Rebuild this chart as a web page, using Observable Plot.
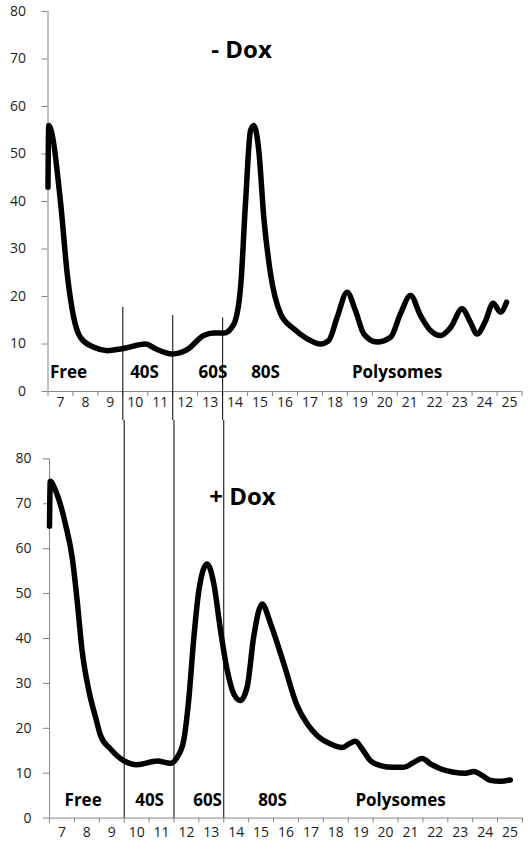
<!DOCTYPE html>
<html><head><meta charset="utf-8">
<script src="https://cdn.jsdelivr.net/npm/d3@7"></script>
<script src="https://cdn.jsdelivr.net/npm/@observablehq/plot@0.6"></script>
<style>
body{margin:0;background:#fff;width:531px;overflow:hidden;}
#c svg{display:block;}
</style>
</head><body><div id="c"></div>
<script>
// Tick labels (gradient fractions) and y ticks
const fractionLabels = [7,8,9,10,11,12,13,14,15,16,17,18,19,20,21,22,23,24,25];
const yTicks = [0,10,20,30,40,50,60,70,80];

// - Dox profile (fraction, absorbance)
const minusDoxX = [6.50,6.53,7.00,7.27,7.53,7.80,8.34,8.87,9.47,10.41,10.81,11.48,12.08,12.74,13.15,13.55,13.95,14.22,14.42,14.62,14.75,14.95,15.15,15.42,15.82,16.35,16.89,17.42,17.75,18.09,18.49,18.82,19.16,19.69,20.23,20.63,21.03,21.43,21.84,22.24,22.64,23.10,23.43,23.70,24.04,24.34,24.64,24.88];
const minusDoxY = [43,56,40,24.8,15.6,11.4,9.3,8.6,9.0,10.0,9.0,7.9,8.8,11.8,12.3,12.3,14.2,22,40,55,56,50.7,36.7,24.8,16.4,13.2,11.1,10.0,10.7,15.6,20.9,17.1,12.1,10.4,11.4,16.4,20.2,16,12.8,11.8,13.5,17.4,14.6,12.1,14.9,18.6,16.7,18.8];

// + Dox profile
const plusDoxX = [6.50,6.53,6.74,7.14,7.41,7.61,7.81,8.08,8.35,8.55,8.95,9.48,10.02,10.83,11.36,11.63,11.89,12.09,12.30,12.50,12.83,13.10,13.37,13.64,13.90,14.17,14.44,14.70,15.04,15.38,15.91,16.45,16.85,17.25,17.79,18.26,18.52,18.79,19.06,19.39,19.79,20.33,20.73,21.07,21.47,21.80,22.20,22.74,23.21,23.54,23.88,24.21,24.61,25.01];
const plusDoxY = [65,75,73,65.5,58.1,48.5,37.3,28.4,22.5,18.4,15.4,12.8,11.9,12.7,12.2,13.6,17.3,26.2,40.3,50.7,56.6,52.2,41.8,32.9,27.7,26.2,29.2,40.3,47.7,43.3,34.4,25,21,18.4,16.5,15.7,16.5,17.1,15.4,12.8,11.7,11.3,11.3,12.2,13.3,12.1,11.0,10.2,10.0,10.4,9.5,8.4,8.2,8.5];

// Region labels and boundaries
const regionNames = ["Free","40S","60S","80S","Polysomes"];
const minusDoxLabelX = [7.32,10.37,13.11,15.22,20.49];
const plusDoxLabelX = [7.85,10.52,12.85,15.46,20.6];
const boundaries = [9.5,11.5,13.5];
const boundaryTops = [17.7,16,15.5];

const halfTicks = fractionLabels.map(d => d - 0.5).concat([fractionLabels[fractionLabels.length-1] + 0.5]);
const FONT = "'Open Sans', 'DejaVu Sans', sans-serif";
const AXIS = "#868686";

function chart(o) {
  const data = o.xs.map((x, i) => ({x, y: o.ys[i]}));
  return Plot.plot({
    width: 531, height: o.height,
    marginTop: o.mt, marginBottom: o.mb, marginLeft: o.ml, marginRight: o.mr,
    style: {fontFamily: FONT, fontSize: "14px", background: "white", color: "#1e1e1e"},
    x: {domain: [6.5, 25.5]},
    y: {domain: [0, 80]},
    marks: [
      Plot.ruleY([0], {stroke: AXIS}),
      Plot.ruleX([6.5], {y1: 0, y2: 80, stroke: AXIS}),
      Plot.axisY({ticks: yTicks, tickSize: 6, tickPadding: o.ypad, stroke: AXIS, fill: "#1e1e1e", fontSize: 14, label: null}),
      Plot.axisX({ticks: halfTicks, tickSize: 5, tickFormat: () => "", stroke: AXIS, label: null}),
      Plot.axisX({ticks: fractionLabels, tickSize: 0, tickPadding: o.xpad, fill: "#1e1e1e", fontSize: 14, tickFormat: d => String(d), label: null}),
      Plot.ruleX(boundaries, {x: d => d, y1: (d, i) => o.ruleTop[i], y2: o.ruleBottom, stroke: "black", strokeWidth: 1}),
      Plot.line(data, {x: "x", y: "y", curve: "monotone-x", stroke: "black", strokeWidth: 5.5, strokeLinejoin: "round"}),
      Plot.text(regionNames, {x: (d, i) => o.labelX[i], y: o.labelY, text: d => d, fontWeight: "bold", fontSize: 17, fill: "black"}),
      Plot.text([o.title], {x: o.titleX, y: o.titleY, text: d => d, fontWeight: "bold", fontSize: 24, fill: "black"})
    ]
  });
}

const c = document.getElementById("c");
c.appendChild(chart({
  xs: minusDoxX, ys: minusDoxY, height: 420, mt: 11, mb: 29, ml: 47.5, mr: 9.5,
  ypad: 16, xpad: 6, ruleTop: boundaryTops, ruleBottom: -8,
  labelX: minusDoxLabelX, labelY: 4.0, title: "- Dox", titleX: 14.26, titleY: 71.8
}));
c.appendChild(chart({
  xs: plusDoxX, ys: plusDoxY, height: 426, mt: 38.4, mb: 28.4, ml: 49, mr: 9,
  ypad: 12, xpad: 9, ruleTop: [92, 92, 92], ruleBottom: 0,
  labelX: plusDoxLabelX, labelY: 3.9, title: "+ Dox", titleX: 14.25, titleY: 71.5
}));
</script>
</body></html>
